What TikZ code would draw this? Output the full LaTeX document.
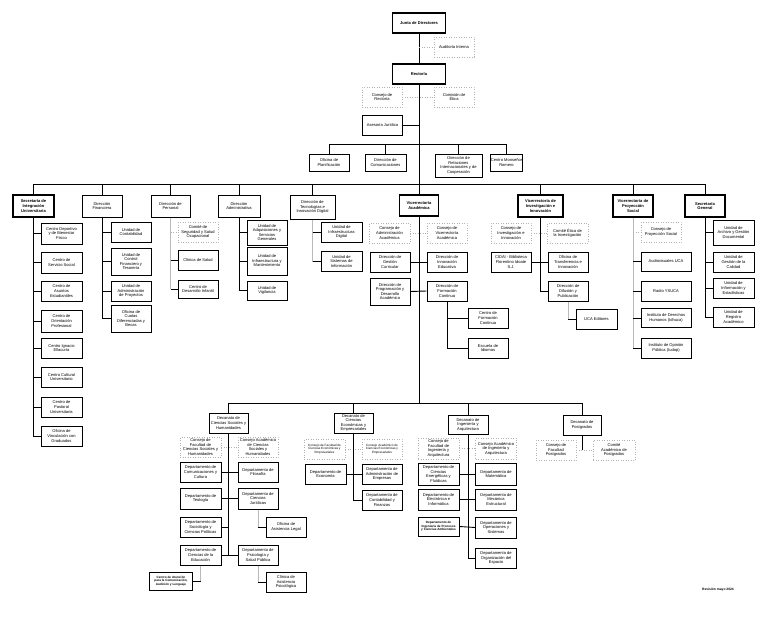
\documentclass[tikz,border=0pt]{standalone}
\usepackage{fontspec}
\setmainfont{Liberation Sans}
\usetikzlibrary{calc}
\newcommand{\boxfont}{\fontsize{4.05}{4.55}\selectfont}
\newcommand{\minifont}{\fontsize{3.1}{3.6}\selectfont}

\begin{document}
\begin{tikzpicture}[
    x=1pt,y=-1pt,
    unit/.style={draw,line width=1pt,fill=white,minimum width=40pt,minimum height=20pt,inner sep=0.4pt,align=center,font=\boxfont},
    head/.style={unit,line width=1.2pt,font=\boxfont\bfseries},
    council/.style={unit,draw=gray!60,line width=0.5pt,dotted},
    wd/.style={minimum width=#1pt},
    ht/.style={minimum height=#1pt},
    link/.style={line width=0.9pt},
    glink/.style={line width=0.6pt,gray!55},
    dlink/.style={line width=0.5pt,gray!60,dotted}
  ]
  \fill[white] (0,0) rectangle (768,626);
  \useasboundingbox (0,0) rectangle (768,626);

  % Governing bodies
  \node[head,wd=53] (jd) at (419,23) {Junta de Directores};
  \node[council] (ai) at (454,47) {Auditoría Interna};
  \node[head,wd=53] (rec) at (419,74) {Rectoría};
  \node[council] (cr) at (382,97) {Consejo de\\Rectoría};
  \node[council] (ce) at (454,97) {Comisión de\\Ética};
  \node[unit] (aj) at (382.5,125) {Asesoría Jurídica};

  % Staff units of the rectory
  \node[unit,ht=17] (op) at (329,162.5) {Oficina de\\Planificación};
  \node[unit,wd=41,ht=17] (dco) at (385.5,162.5) {Dirección de\\Comunicaciones};
  \node[unit,wd=47,ht=23] (dri) at (458.5,165.5) {Dirección de\\Relaciones\\Internacionales y de\\Cooperación};
  \node[unit,wd=30,ht=17] (cmr) at (506.5,162.5) {Centro Monseñor\\Romero};

  % Second level
  \node[head,wd=41,ht=22] (siu) at (33.5,206) {Secretaría de\\Integración\\Universitaria};
  \node[unit,ht=22] (df) at (102,206) {Dirección\\Financiera};
  \node[unit,wd=39,ht=22] (dp) at (170.5,206) {Dirección de\\Personal};
  \node[unit,wd=42,ht=22] (da) at (239,206) {Dirección\\Administrativa};
  \node[unit,wd=45,ht=24] (dt) at (312.5,207) {Dirección de\\Tecnologías e\\Innovación Digital};
  \node[head,wd=39,ht=21] (va) at (419,205.5) {Vicerrectoría\\Académica};
  \node[head,wd=45,ht=22] (vii) at (540.5,206) {Vicerrectoría de\\Investigación e\\Innovación};
  \node[head,ht=22] (vps) at (633,206) {Vicerrectoría de\\Proyección\\Social};
  \node[head,ht=22] (sg) at (705,206) {Secretaría\\General};

  % Secretaría de Integración Universitaria
  \node[unit,wd=41,ht=21] (siu1) at (61.5,233.5) {Centro Deportivo\\y de Bienestar\\Físico};
  \node[unit,wd=41,ht=21] (siu2) at (61.5,262.5) {Centro de\\Servicio Social};
  \node[unit,wd=41] (siu3) at (61.5,291) {Centro de\\Asuntos\\Estudiantiles};
  \node[unit,wd=41,ht=22] (siu4) at (61.5,321) {Centro de\\Orientación\\Profesional};
  \node[unit,wd=41] (siu5) at (61.5,348) {Centro Ignacio\\Ellacuría};
  \node[unit,wd=41] (siu6) at (61.5,377) {Centro Cultural\\Universitario};
  \node[unit,wd=41] (siu7) at (61.5,407) {Centro de\\Pastoral\\Universitaria};
  \node[unit,wd=41] (siu8) at (61.5,436) {Oficina de\\Vinculación con\\Graduados};

  % Dirección Financiera
  \node[unit] (df1) at (131,232) {Unidad de\\Contabilidad};
  \node[unit,ht=27] (df2) at (131,261.5) {Unidad de\\Control\\Financiero y\\Tesorería};
  \node[unit] (df3) at (131,291) {Unidad de\\Administración\\de Proyectos};
  \node[unit,ht=27] (df4) at (131,318.5) {Oficina de\\Cuotas\\Diferenciadas y\\Becas};

  % Dirección de Personal
  \node[council] (dp1) at (198,232) {Comité de\\Seguridad y Salud\\Ocupacional};
  \node[unit] (dp2) at (198,260) {Clínica de Salud};
  \node[unit,ht=18] (dp3) at (198,289) {Centro de\\Desarrollo Infantil};

  % Dirección Administrativa
  \node[unit,ht=25] (da1) at (267,232.5) {Unidad de\\Adquisiciones y\\Servicios\\Generales};
  \node[unit,ht=28] (da2) at (267,261) {Unidad de\\Infraestructura y\\Mantenimiento};
  \node[unit,ht=19] (da3) at (267,290.5) {Unidad de\\Vigilancia};

  % Dirección de Tecnologías
  \node[unit,wd=41] (dt1) at (341.5,232) {Unidad de\\Infraestructura\\Digital};
  \node[unit,wd=41] (dt2) at (341.5,261.5) {Unidad de\\Sistemas de\\Información};

  % Vicerrectoría Académica
  \node[council,wd=41] (va1) at (389.5,233) {Consejo de\\Administración\\Académica};
  \node[council] (va2) at (447,233) {Consejo de\\Vicerrectoría\\Académica};
  \node[unit] (va3) at (390,262) {Dirección de\\Gestión\\Curricular};
  \node[unit] (va4) at (447,262) {Dirección de\\Innovación\\Educativa};
  \node[unit,ht=27] (va5) at (390,291.5) {Dirección de\\Programación y\\Desarrollo\\Académico};
  \node[unit] (va6) at (447,291) {Dirección de\\Formación\\Continua};
  \node[unit] (va7) at (488,318) {Centro de\\Formación\\Continua};
  \node[unit] (va8) at (488,348) {Escuela de\\Idiomas};

  % Vicerrectoría de Investigación e Innovación
  \node[council] (vii1) at (511,233) {Consejo de\\Investigación e\\Innovación};
  \node[council,wd=41] (vii2) at (567.5,233) {Comité Ética de\\la Investigación};
  \node[unit] (vii3) at (511,262) {CIDAI - Biblioteca\\Florentino Idoate\\S.J.};
  \node[unit] (vii4) at (568,262) {Oficina de\\Transferencia e\\Innovación};
  \node[unit] (vii5) at (568,291) {Dirección de\\Difusión y\\Publicación};
  \node[unit,wd=41] (vii6) at (596.5,319) {UCA Editores};

  % Vicerrectoría de Proyección Social
  \node[council] (vps1) at (661,232) {Consejo de\\Proyección Social};
  \node[unit,wd=50,ht=19] (vps2) at (666,261.5) {Audiovisuales UCA};
  \node[unit,wd=50] (vps3) at (666,291) {Radio YSUCA};
  \node[unit,wd=50,ht=19] (vps4) at (666,318) {Instituto de Derechos\\Humanos (Idhuca)};
  \node[unit,wd=50] (vps5) at (666,348) {Instituto de Opinión\\Pública (Iudop)};

  % Secretaría General
  \node[unit,wd=41,ht=25] (sg1) at (733.5,232.5) {Unidad de\\Archivo y Gestión\\Documental};
  \node[unit,wd=41] (sg2) at (733.5,262) {Unidad de\\Gestión de la\\Calidad};
  \node[unit,wd=41] (sg3) at (733.5,288) {Unidad de\\Información y\\Estadísticas};
  \node[unit,wd=41] (sg4) at (733.5,317) {Unidad de\\Registro\\Académico};

  % Faculties
  \node[unit,wd=39] (fcs) at (228.5,423) {Decanato de\\Ciencias Sociales y\\Humanidades};
  \node[unit,wd=39] (fce) at (353.5,423) {Decanato de\\Ciencias\\Económicas y\\Empresariales};
  \node[unit,ht=19] (fia) at (468,424.5) {Decanato de\\Ingeniería y\\Arquitectura};
  \node[unit,wd=38] (fpg) at (582,425) {Decanato de\\Postgrados};

  % Ciencias Sociales y Humanidades
  \node[council,wd=41] (fcs1) at (200.5,447) {Consejo de\\Facultad de\\Ciencias Sociales y\\Humanidades};
  \node[council] (fcs2) at (258,447) {Consejo Académico\\de Ciencias\\Sociales y\\Humanidades};
  \node[unit,wd=41] (fcs3) at (200.5,472) {Departamento de\\Comunicaciones y\\Cultura};
  \node[unit] (fcs4) at (258,472) {Departamento de\\Filosofía};
  \node[unit,wd=41,ht=21] (fcs5) at (200.5,498.5) {Departamento de\\Teología};
  \node[unit,ht=21] (fcs6) at (258,498.5) {Departamento de\\Ciencias\\Jurídicas};
  \node[unit] (fcs7) at (286,527) {Oficina de\\Asistencia Legal};
  \node[unit,wd=41] (fcs8) at (200.5,527) {Departamento de\\Sociología y\\Ciencias Políticas};
  \node[unit,wd=41] (fcs9) at (200.5,555) {Departamento de\\Ciencias de la\\Educación};
  \node[unit] (fcs10) at (258,555) {Departamento de\\Psicología y\\Salud Pública};
  \node[unit] (fcs11) at (286,582) {Clínica de\\Asistencia\\Psicológica};
  \node[unit,wd=43,ht=18,font=\minifont\bfseries] (fcs12) at (171,581) {Centro de Atención\\para la Comunicación,\\Audición y Lenguaje};

  % Ciencias Económicas y Empresariales
  \node[council,wd=41,font=\minifont] (fce1) at (324.5,449) {Consejo de Facultad de\\Ciencias Económicas y\\Empresariales};
  \node[council,font=\minifont] (fce2) at (382,449) {Consejo Académico de\\Ciencias Económicas y\\Empresariales};
  \node[unit,wd=41] (fce3) at (325.5,474) {Departamento de\\Economía};
  \node[unit] (fce4) at (382,474) {Departamento de\\Administración de\\Empresas};
  \node[unit] (fce5) at (382,500) {Departamento de\\Contabilidad y\\Finanzas};

  % Ingeniería y Arquitectura
  \node[council,wd=41,ht=21] (fia1) at (438.5,448.5) {Consejo de\\Facultad de\\Ingeniería y\\Arquitectura};
  \node[council,wd=41,ht=21] (fia2) at (496,448.5) {Consejo Académico\\de Ingeniería y\\Arquitectura};
  \node[unit,wd=41,ht=22] (fia3) at (438.5,474) {Departamento de\\Ciencias\\Energéticas y\\Fluídicas};
  \node[unit,wd=41,ht=22] (fia4) at (496,474) {Departamento de\\Matemática};
  \node[unit,wd=41,ht=21] (fia5) at (438.5,499.5) {Departamento de\\Electrónica e\\Informática};
  \node[unit,wd=41,ht=21] (fia6) at (496,499.5) {Departamento de\\Mecánica\\Estructural};
  \node[unit,wd=41,ht=19,font=\minifont\bfseries] (fia7) at (438.5,526.5) {Departamento de\\Ingeniería de Procesos\\y Ciencias Ambientales};
  \node[unit,wd=41,ht=21] (fia8) at (496,527.5) {Departamento de\\Operaciones y\\Sistemas};
  \node[unit,wd=41] (fia9) at (496,558) {Departamento de\\Organización del\\Espacio};

  % Postgrados
  \node[council] (fpg1) at (556,450) {Consejo de\\Facultad\\Postgrados};
  \node[council,wd=42] (fpg2) at (614,450) {Comité\\Académico de\\Postgrados};

  \node[font=\fontsize{3.3}{4}\selectfont\bfseries] (rev) at (718,590) {Revisión mayo 2024};

  % Trunk and bars
  \coordinate (sbar) at (419,144);
  \coordinate (mbar) at (419,184);
  \coordinate (fbar) at (419,403);
  \draw[link] (jd.south) -- (rec.north);
  \draw[link] (rec.south) -- (va.north);
  \draw[link] (va.south) -- (fbar);
  \draw[dlink] (rec.north |- ai.west) -- (ai.west);
  \draw[dlink] (cr.east) -- (ce.west);
  \draw[link] (aj.east) -- (aj.east -| rec.south);
  \foreach \n in {op,dco,dri,cmr} \draw[link] (\n.north) |- (sbar);
  \foreach \n in {siu,df,dp,da,dt,vii,vps,sg} \draw[link] (\n.north) |- (mbar);
  \foreach \n in {fcs,fce,fia,fpg} \draw[link] (\n.north) |- (fbar);

  % Second level branches
  \foreach \n in {siu1,siu2,siu3,siu4,siu5,siu6,siu7,siu8} \draw[link] (siu.south) |- (\n.west);
  \foreach \n in {df1,df2,df3,df4} \draw[link] (df.south) |- (\n.west);
  \draw[glink] (dp.south) -- (dp.south |- dp3.west);
  \draw[dlink] (dp.south |- dp1.west) -- (dp1.west);
  \foreach \n in {dp2,dp3} \draw[link] (dp.south |- \n.west) -- (\n.west);
  \foreach \n in {da1,da2,da3} \draw[link] (da.south) |- (\n.west);
  \draw[glink] (dt.south) -- (dt.south |- dt2.west);
  \foreach \n in {dt1,dt2} \draw[link] (dt.south |- \n.west) -- (\n.west);

  % Vicerrectorías
  \draw[dlink] (va1.east) -- (va2.west);
  \draw[link] (va3.east) -- (va4.west);
  \draw[link] (va5.east) -- (va6.west);
  \foreach \n in {va7,va8} \draw[link] (va6.south) |- (\n.west);
  \draw[dlink] (vii1.east) -- (vii2.west);
  \draw[link] (vii3.east) -- (vii4.west);
  \draw[link] (vii.south) |- (vii5.west);
  \draw[glink] (vii5.south) -- (vii5.south |- vii6.west);
  \draw[link] (vii5.south |- vii6.west) -- (vii6.west);
  \draw[glink] (vps.south) -- (vps.south |- vps5.west);
  \draw[dlink] (vps.south |- vps1.west) -- (vps1.west);
  \foreach \n in {vps2,vps3,vps4,vps5} \draw[link] (vps.south |- \n.west) -- (\n.west);
  \foreach \n in {sg1,sg2,sg3,sg4} \draw[link] (sg.south) |- (\n.west);

  % Faculty branches
  \draw[link] (fcs.south) -- (fcs.south |- fcs9.east);
  \draw[dlink] (fcs1.east) -- (fcs2.west);
  \draw[link] (fcs3.east) -- (fcs4.west);
  \draw[link] (fcs5.east) -- (fcs6.west);
  \draw[link] (fcs8.east) -- (fcs8.east -| fcs.south);
  \draw[link] (fcs9.east) -- (fcs10.west);
  \draw[glink] (fcs6.south) -- (fcs6.south |- fcs7.west);
  \draw[link] (fcs6.south |- fcs7.west) -- (fcs7.west);
  \draw[glink] (fcs10.south) -- (fcs10.south |- fcs11.west);
  \draw[link] (fcs10.south |- fcs11.west) -- (fcs11.west);
  \draw[glink] (fcs9.south) -- (fcs9.south |- fcs12.east);
  \draw[link] (fcs9.south |- fcs12.east) -- (fcs12.east);

  \draw[dlink] (fce1.east) -- (fce2.west);
  \draw[link] (fce3.east) -- (fce4.west);
  \draw[link] (fce.south) |- (fce5.west);

  \draw[dlink] (fia1.east) -- (fia2.west);
  \draw[link] (fia3.east) -- (fia4.west);
  \draw[link] (fia5.east) -- (fia6.west);
  \draw[link] (fia7.east) -- (fia8.west);
  \draw[link] (fia.south) |- (fia9.west);

  \draw[dlink] (fpg1.east) -- (fpg2.west);
  \draw[link] (fpg.south) -- (fpg.south |- fpg1.east);
\end{tikzpicture}
\end{document}
